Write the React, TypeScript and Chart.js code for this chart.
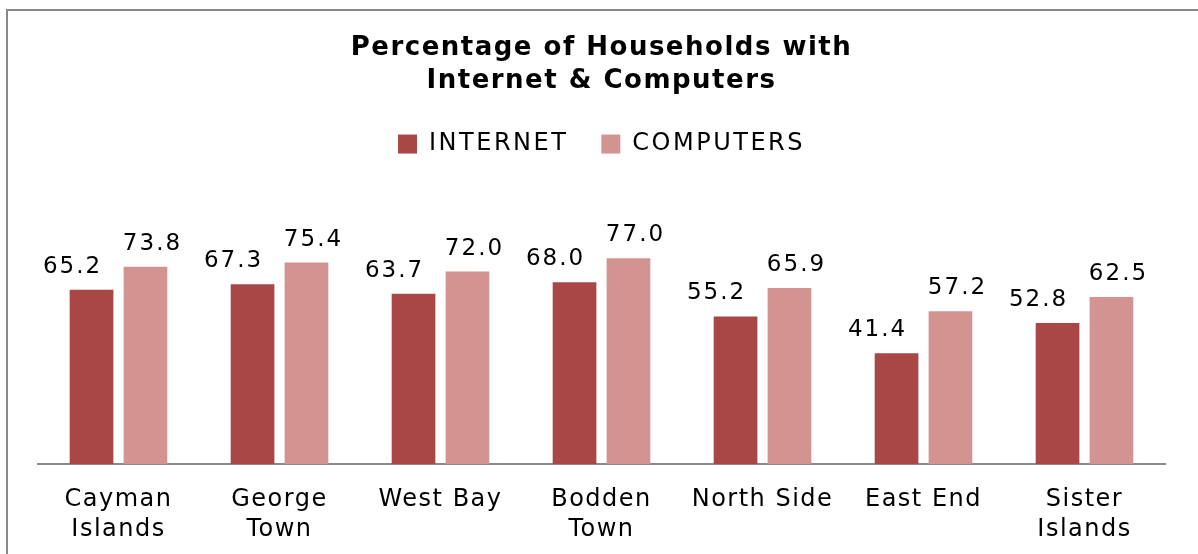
import React, { useEffect, useRef } from "react";
import { Chart, registerables } from "chart.js";

Chart.register(...registerables);

const categories: (string | string[])[] = [
  ["Cayman", "Islands"],
  ["George", "Town"],
  "West Bay",
  ["Bodden", "Town"],
  "North Side",
  "East End",
  ["Sister", "Islands"],
];
const internet = [65.2, 67.3, 63.7, 68.0, 55.2, 41.4, 52.8];
const computers = [73.8, 75.4, 72.0, 77.0, 65.9, 57.2, 62.5];
const seriesNames = ["INTERNET", "COMPUTERS"];
const titleLines = ["Percentage of Households with", "Internet & Computers"];

const INTERNET_COLOR = "#A84745";
const COMPUTERS_COLOR = "#D39391";

function wrapSpacing(obj: any, method: string, spacing: string) {
  if (!obj || obj["__ls_" + method]) return;
  const orig = obj[method];
  obj[method] = function (...args: any[]) {
    const ctx = this.ctx as any;
    const prev = ctx.letterSpacing;
    ctx.letterSpacing = spacing;
    try {
      return orig.apply(this, args);
    } finally {
      ctx.letterSpacing = prev;
    }
  };
  obj["__ls_" + method] = true;
}

const spacingPlugin = {
  id: "spacing",
  beforeLayout(chart: any) {
    wrapSpacing(chart.legend, "fit", "2.5px");
    wrapSpacing(chart.legend, "draw", "2.5px");
    wrapSpacing(chart.titleBlock, "fit", "1.5px");
    wrapSpacing(chart.titleBlock, "draw", "1.5px");
  },
  afterLayout(chart: any) {
    const x = chart.scales.x;
    wrapSpacing(x, "drawLabels", "1.5px");
  },
};

const labelPlugin = {
  id: "barLabels",
  afterDatasetsDraw(chart: any) {
    const ctx = chart.ctx as any;
    ctx.save();
    ctx.letterSpacing = "2px";
    ctx.font = "23px 'DejaVu Sans'";
    ctx.fillStyle = "#000";
    ctx.textAlign = "center";
    ctx.textBaseline = "alphabetic";
    const offsets = [-19, 7];
    chart.data.datasets.forEach((ds: any, i: number) => {
      const meta = chart.getDatasetMeta(i);
      meta.data.forEach((bar: any, j: number) => {
        const v = ds.data[j] as number;
        ctx.fillText(v.toFixed(1), bar.x + offsets[i], bar.y - 17);
      });
    });
    ctx.restore();
  },
};

export default function App() {
  const ref = useRef<HTMLCanvasElement>(null);
  useEffect(() => {
    if (!ref.current) return;
    const chart = new Chart(ref.current, {
      type: "bar",
      data: {
        labels: categories,
        datasets: [
          {
            label: seriesNames[0],
            data: internet,
            backgroundColor: INTERNET_COLOR,
            categoryPercentage: 0.67,
            barPercentage: 0.81,
          },
          {
            label: seriesNames[1],
            data: computers,
            backgroundColor: COMPUTERS_COLOR,
            categoryPercentage: 0.67,
            barPercentage: 0.81,
          },
        ],
      },
      options: {
        animation: false,
        responsive: true,
        maintainAspectRatio: false,
        layout: { padding: { left: 38, right: 33, top: 0, bottom: 10 } },
        plugins: {
          title: {
            display: true,
            text: titleLines,
            color: "#000",
            font: { family: "'DejaVu Sans'", size: 26, weight: "bold", lineHeight: 1.27 },
            padding: { top: 32, bottom: 1 },
          },
          legend: {
            display: true,
            position: "top",
            labels: {
              boxWidth: 19,
              boxHeight: 19,
              padding: 33,
              color: "#000",
              font: { family: "'DejaVu Sans'", size: 24 },
            },
          },
          tooltip: { enabled: false },
        },
        scales: {
          x: {
            grid: { display: false, drawTicks: false },
            border: { display: true, color: "#8a8a8a", width: 2 },
            ticks: {
              color: "#000",
              font: { family: "'DejaVu Sans'", size: 24, lineHeight: 1.25 },
              padding: 21,
              autoSkip: false,
              maxRotation: 0,
            },
            afterFit(scale: any) {
              scale.height = 80;
            },
          },
          y: {
            display: false,
            min: 0,
            max: 111.5,
          },
        },
      },
      plugins: [spacingPlugin, labelPlugin],
    });
    return () => chart.destroy();
  }, []);

  return (
    <div style={{ position: "absolute", left: 0, top: 0, width: 1198, height: 554, background: "#fff", overflow: "hidden" }}>
      <div
        style={{
          position: "absolute",
          left: 6,
          top: 9,
          width: 1300,
          height: 700,
          borderLeft: "2px solid #898989",
          borderTop: "2px solid #898989",
        }}
      />
      <div style={{ position: "absolute", left: 0, top: 0, width: 1198, height: 554 }}>
        <canvas ref={ref} />
      </div>
    </div>
  );
}
